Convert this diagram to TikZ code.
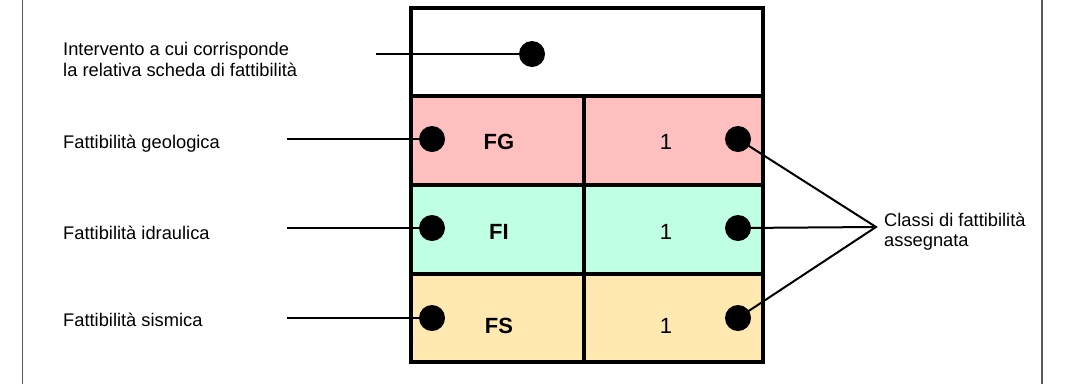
\documentclass[tikz,border=0pt]{standalone}
\usepackage{fontspec}
\setmainfont{Liberation Sans}
\definecolor{geoPink}{RGB}{255,191,191}
\definecolor{idrTeal}{RGB}{191,255,228}
\definecolor{sisYellow}{RGB}{255,233,176}
\definecolor{frameGray}{RGB}{90,90,90}
\tikzset{
  dot/.style={circle,fill=black,inner sep=0pt,minimum size=26pt},
  lbl/.style={inner sep=0pt,anchor=base west},
  celltext/.style={inner sep=0pt,anchor=base,font=\fontsize{22}{26}\selectfont},
  conn/.style={line width=2pt},
  cellline/.style={line width=3.5pt}
}

\begin{document}
\begin{tikzpicture}
    [x=1pt,y=-1pt,font=\fontsize{18.3}{20.8}\selectfont]
    \useasboundingbox (0,0) rectangle (1068,384);
    % outer frame
    \draw[frameGray,line width=1.4pt] (22.5,0)--(22.5,384);
    \draw[frameGray,line width=1.4pt] (1042,0)--(1042,384);
    % table cells
    \fill[geoPink] (411,96) rectangle (763,185);
    \fill[idrTeal] (411,185) rectangle (763,274);
    \fill[sisYellow] (411,274) rectangle (763,362);
    \draw[cellline] (411,8) rectangle (763,362);
    \draw[cellline] (411,96)--(763,96);
    \draw[cellline] (411,185)--(763,185);
    \draw[cellline] (411,274)--(763,274);
    \draw[cellline] (584,96)--(584,362);
    % cell texts
    \node[celltext,font=\fontsize{22}{26}\selectfont\bfseries] (FG) at (499,149) {FG};
    \node[celltext,font=\fontsize{22}{26}\selectfont\bfseries] (FI) at (499,239.5) {FI};
    \node[celltext,font=\fontsize{22}{26}\selectfont\bfseries] (FS) at (499,333) {FS};
    \node[celltext] (cG) at (666,149) {1};
    \node[celltext] (cI) at (666,239.5) {1};
    \node[celltext] (cS) at (666,333) {1};
    % dots
    \node[dot] (dInt) at (532,54) {};
    \node[dot] (dG) at (432,139) {};
    \node[dot] (dI) at (432,228) {};
    \node[dot] (dS) at (432,318) {};
    \node[dot] (rG) at (738,139) {};
    \node[dot] (rI) at (738,228) {};
    \node[dot] (rS) at (738,318) {};
    % left labels
    \node[inner sep=0pt,anchor=north west,align=left] (int) at (63,41.8)
      {Intervento a cui corrisponde\\la relativa scheda di fattibilità};
    \node[lbl] (geo) at (63,148) {Fattibilità geologica};
    \node[lbl] (idr) at (63,239.5) {Fattibilità idraulica};
    \node[lbl] (sis) at (63,326) {Fattibilità sismica};
    \coordinate (aInt) at (376,54);
    \coordinate (aG) at (287,139);
    \coordinate (aI) at (287,228);
    \coordinate (aS) at (287,318);
    \draw[conn] (aInt)--(dInt.center);
    \draw[conn] (aG)--(dG.center);
    \draw[conn] (aI)--(dI.center);
    \draw[conn] (aS)--(dS.center);
    % right label
    \coordinate (meet) at (876,227);
    \node[inner sep=0pt,anchor=north west,align=left] (cls) at (884,212.5)
      {Classi di fattibilità\\assegnata};
    \draw[conn] (rG.center)--(meet)--(rS.center);
    \draw[conn] (rI.center)--(meet);
\end{tikzpicture}
\end{document}
